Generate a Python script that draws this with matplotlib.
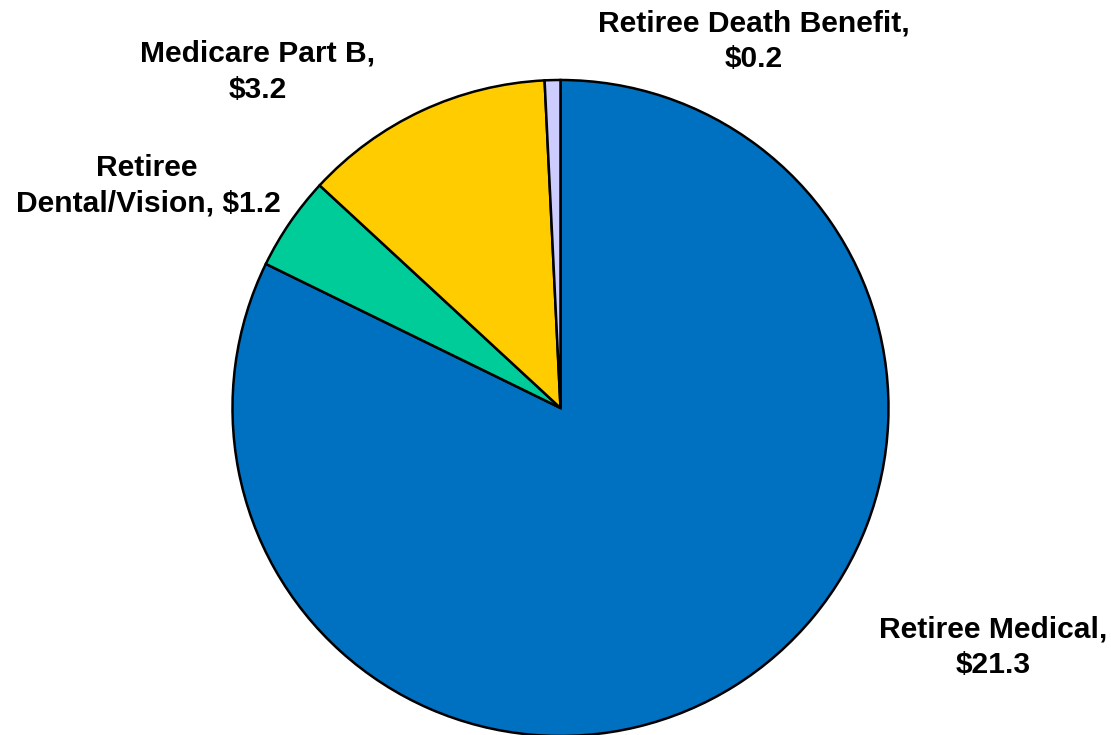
import matplotlib
matplotlib.use("Agg")
import matplotlib.pyplot as plt

categories = ["Retiree Medical", "Retiree Dental/Vision", "Medicare Part B", "Retiree Death Benefit"]
values = [21.3, 1.2, 3.2, 0.2]
label_texts = ["Retiree Medical,\n$21.3", "Retiree\nDental/Vision, $1.2",
               "Medicare Part B,\n$3.2", "Retiree Death Benefit,\n$0.2"]
colors = ["#0070C0", "#00CC99", "#FFCC00", "#CCCCFF"]

W, H = 1111, 735
fig = plt.figure(figsize=(W / 100, H / 100), dpi=100)
cx, cy, r = 560.5, 408, 328
ax = fig.add_axes([(cx - r) / W, (H - cy - r) / H, 2 * r / W, 2 * r / H])
ax.pie(values, colors=colors, startangle=90, counterclock=False,
       wedgeprops=dict(edgecolor="black", linewidth=1.8), radius=1)
ax.set_xlim(-1, 1)
ax.set_ylim(-1, 1)
ax.set_aspect("equal")
ax.axis("off")

# per-line centres (x) and baselines (y) in figure pixels from top-left
line_pos = [
    [(993, 637), (993, 673)],
    [(147, 176), (148, 212)],
    [(258, 62), (258, 98)],
    [(754, 32), (754, 67)],
]
for txt, positions in zip(label_texts, line_pos):
    for line, (px, py) in zip(txt.split("\n"), positions):
        fig.text(px / W, 1 - py / H, line, ha="center", va="baseline",
                 fontsize=21.6, fontweight="bold", family="Liberation Sans")

fig.savefig("out.png", dpi=100)
